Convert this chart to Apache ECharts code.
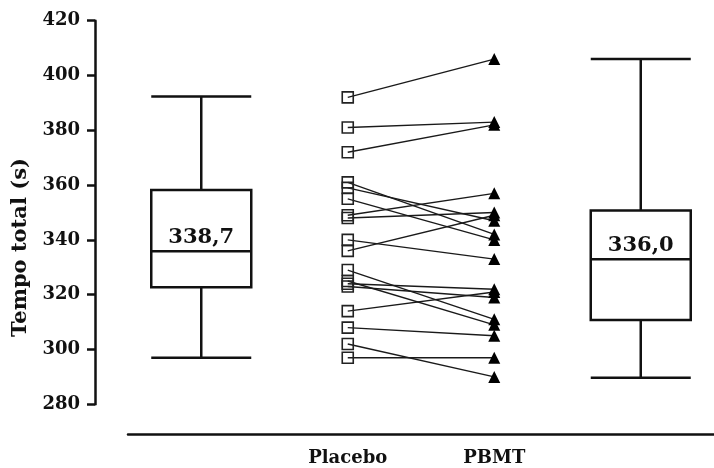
<!DOCTYPE html>
<html>
<head>
<meta charset="utf-8">
<script src="https://cdn.jsdelivr.net/npm/echarts@6/dist/echarts.min.js"></script>
<style>
  html, body { margin: 0; padding: 0; background: #fff; }
  #chart { width: 714px; height: 468px; }
</style>
</head>
<body>
<div id="chart"></div>
<script>
// categories along x (outer two hold the box plots)
const categories = ['', 'Placebo', 'PBMT', ''];

// individual values, paired by index
const placebo = [392, 381, 372, 361, 359, 355, 349, 348, 340, 336, 329, 325, 324, 323, 314, 308, 302, 297];
const pbmt    = [406, 383, 382, 342, 347, 340, 357, 350, 333, 349, 311, 309, 322, 319, 321, 305, 290, 297];

// box stats: [min, Q1, median, Q3, max]
const placeboBox = [297, 322.7, 335.9, 358.2, 392.3];
const pbmtBox = [289.7, 310.8, 332.9, 350.7, 406];
const boxLabels = ['338,7', '336,0'];

const serif = '"DejaVu Serif", "Liberation Serif", serif';
const ink = '#111';

const chart = echarts.init(document.getElementById('chart'));

const pairSeries = placebo.map(function (v, i) {
  return {
    type: 'line',
    data: [[1, v], [2, pbmt[i]]],
    symbol: 'none',
    silent: true,
    z: 2,
    lineStyle: { color: '#1a1a1a', width: 1.4 }
  };
});

const option = {
  animation: false,
  backgroundColor: '#fff',
  grid: { left: 128, width: 593, top: 20.7, bottom: 63.7 },
  xAxis: {
    type: 'category',
    data: categories,
    offset: 30,
    axisLine: { lineStyle: { color: ink, width: 2.5 } },
    axisTick: { show: false },
    axisLabel: {
      interval: 0,
      margin: 15,
      color: ink,
      fontFamily: serif,
      fontWeight: 'bold',
      fontSize: 18
    },
    splitLine: { show: false }
  },
  yAxis: {
    type: 'value',
    min: 280,
    max: 420,
    interval: 20,
    offset: 33,
    name: 'Tempo total (s)',
    nameLocation: 'middle',
    nameGap: 62,
    nameTextStyle: {
      color: ink, fontFamily: serif, fontWeight: 'bold', fontSize: 21,
      padding: [0, 70, 0, 0]
    },
    axisLine: { show: true, lineStyle: { color: ink, width: 2.5 } },
    axisTick: { show: true, length: 8, lineStyle: { color: ink, width: 2.5 } },
    axisLabel: { margin: 15, color: ink, fontFamily: serif, fontWeight: 'bold', fontSize: 18 },
    splitLine: { show: false }
  },
  series: [
    {
      type: 'boxplot',
      data: [[0].concat(placeboBox), [3].concat(pbmtBox)],
      encode: { x: 0, y: [1, 2, 3, 4, 5] },
      boxWidth: [100, 100],
      silent: true,
      itemStyle: { color: '#fff', borderColor: ink, borderWidth: 2.5 }
    },
    {
      type: 'scatter',
      data: [[0, placeboBox[2]], [3, pbmtBox[2]]],
      symbolSize: 1,
      silent: true,
      z: 5,
      itemStyle: { color: ink, opacity: 0 },
      label: {
        show: true,
        position: 'top',
        distance: 3,
        opacity: 1,
        formatter: function (p) { return boxLabels[p.dataIndex]; },
        color: ink,
        fontFamily: serif,
        fontWeight: 'bold',
        fontSize: 21
      }
    }
  ].concat(pairSeries).concat([
    {
      type: 'scatter',
      data: placebo.map(function (v) { return [1, v]; }),
      symbol: 'rect',
      symbolSize: 11,
      silent: true,
      z: 3,
      itemStyle: { color: 'rgba(255,255,255,0)', borderColor: '#222', borderWidth: 1.6, opacity: 1 }
    },
    {
      type: 'scatter',
      data: pbmt.map(function (v) { return [2, v]; }),
      symbol: 'triangle',
      symbolSize: 12,
      silent: true,
      z: 4,
      itemStyle: { color: '#000', opacity: 1 }
    }
  ])
};

chart.setOption(option);
</script>
</body>
</html>
